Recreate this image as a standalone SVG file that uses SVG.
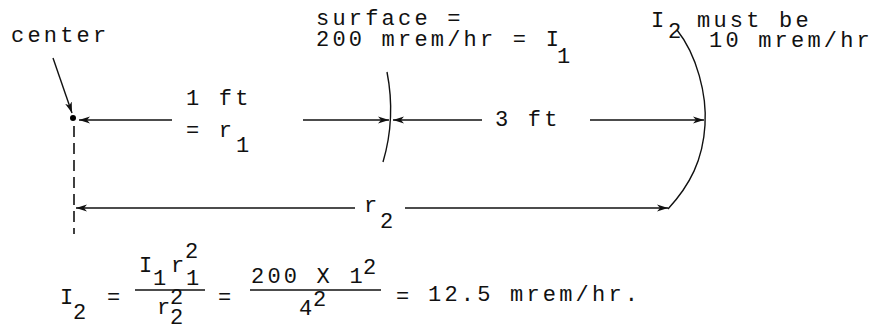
<svg xmlns="http://www.w3.org/2000/svg" width="877" height="327" viewBox="0 0 877 327">
<style>
text{font-family:"Liberation Mono","DejaVu Sans Mono",monospace;font-size:22px;letter-spacing:3.2px;fill:#111}
.ln{stroke:#111;stroke-width:1.4;fill:none}
.dash{stroke:#111;stroke-width:1.6;fill:none;stroke-dasharray:11 6}
</style>
<defs>
<marker id="ah" markerUnits="userSpaceOnUse" markerWidth="12" markerHeight="8" refX="11" refY="4" orient="auto">
<path d="M0,0.5 L11,4 L0,7.5 L3,4 z" fill="#111"/>
</marker>
</defs>
<rect width="877" height="327" fill="#fff"/>
<g id="connectors">
<line class="ln" x1="53" y1="58" x2="72" y2="113" marker-end="url(#ah)"/>
<line class="ln" x1="172" y1="120" x2="79" y2="120" marker-end="url(#ah)"/>
<line class="ln" x1="303" y1="120" x2="389" y2="120" marker-end="url(#ah)"/>
<line class="ln" x1="482" y1="120" x2="393" y2="120" marker-end="url(#ah)"/>
<line class="ln" x1="590" y1="120" x2="704" y2="120" marker-end="url(#ah)"/>
<line class="ln" x1="355" y1="208" x2="76" y2="208" marker-end="url(#ah)"/>
<line class="ln" x1="405" y1="208" x2="668" y2="208" marker-end="url(#ah)"/>
<line class="dash" x1="74" y1="126" x2="74" y2="234"/>
<line class="ln" x1="135" y1="290" x2="205" y2="290"/>
<line class="ln" x1="250" y1="290" x2="381" y2="290"/>
</g>
<g id="center-point">
<circle cx="73" cy="118" r="3"/>
<text x="11" y="42">center</text>
</g>
<g id="surface">
<path class="ln" d="M387,72 Q396,118 383,162"/>
<text x="316" y="25">surface =</text>
<text x="316" y="46">200 mrem/hr = I</text>
<text x="557" y="63">1</text>
</g>
<g id="outer-sphere">
<path class="ln" d="M677,30 C697,55 707,95 705,125 C703,160 690,185 668,209"/>
<text x="651" y="27">I</text>
<text x="668" y="38">2</text>
<text x="697" y="27">must be</text>
<text x="709" y="47">10 mrem/hr</text>
</g>
<g id="r1-label">
<text x="186" y="105">1 ft</text>
<text x="186" y="137">= r</text>
<text x="236" y="152">1</text>
</g>
<g id="three-ft-label">
<text x="495" y="126">3 ft</text>
</g>
<g id="r2-label">
<text x="364" y="212">r</text>
<text x="380" y="228">2</text>
</g>
<g id="formula">
<text x="60" y="304">I</text>
<text x="73" y="319">2</text>
<text x="107" y="304">=</text>
<text x="139" y="272">I</text>
<text x="153" y="285">1</text>
<text x="171" y="272">r</text>
<text x="185" y="258">2</text>
<text x="186" y="285">1</text>
<text x="157" y="314">r</text>
<text x="170" y="304">2</text>
<text x="170" y="324">2</text>
<text x="218" y="304">=</text>
<text x="251" y="283">200 X 1</text>
<text x="363" y="274">2</text>
<text x="299" y="315">4</text>
<text x="313" y="306">2</text>
<text x="396" y="303">=</text>
<text x="428" y="301">12.5 mrem/hr.</text>
</g>
</svg>
